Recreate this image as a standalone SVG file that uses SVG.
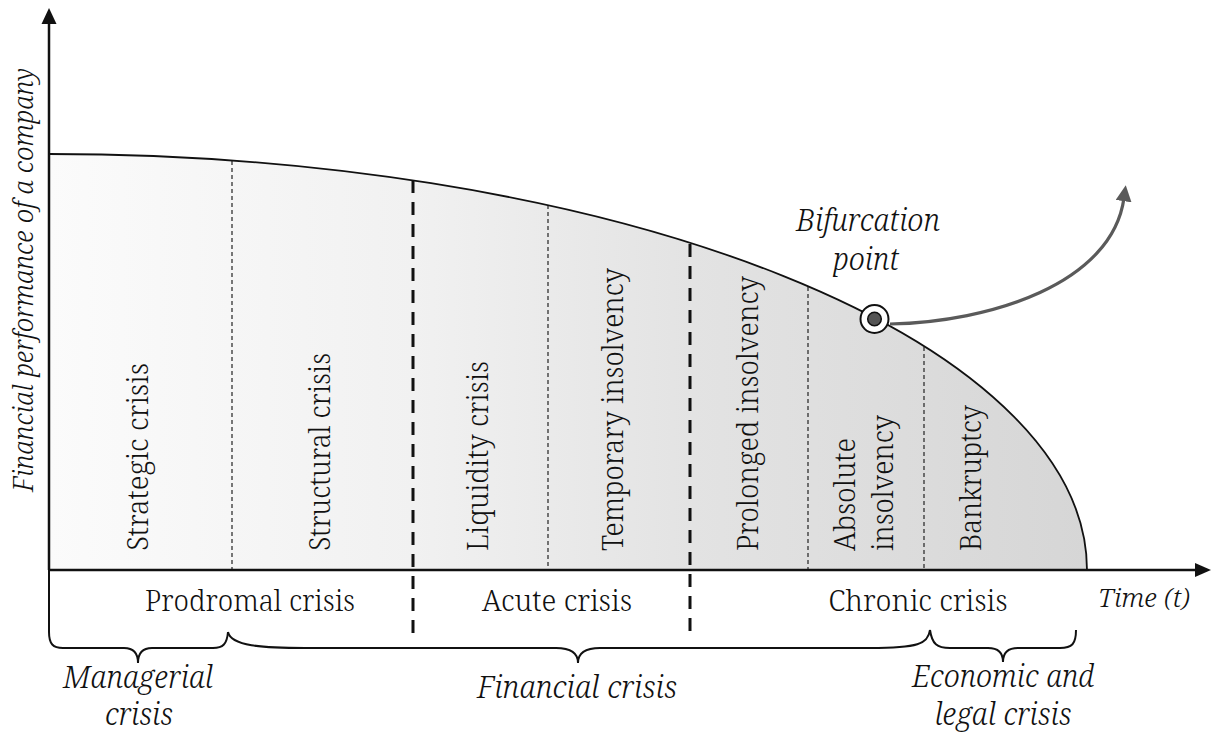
<svg xmlns="http://www.w3.org/2000/svg" width="1217" height="733" viewBox="0 0 1217 733" font-family="'Noto Serif', 'DejaVu Serif', serif">
  <defs>
    <linearGradient id="areaFill" gradientUnits="userSpaceOnUse" x1="49" y1="0" x2="1087" y2="0">
      <stop offset="0" stop-color="#fbfbfb"/>
      <stop offset="0.35" stop-color="#f1f1f1"/>
      <stop offset="0.62" stop-color="#e3e3e3"/>
      <stop offset="1" stop-color="#d6d6d6"/>
    </linearGradient>
    <marker id="grayHead" viewBox="0 0 10 10" refX="2" refY="5" markerWidth="5" markerHeight="5" orient="auto" markerUnits="strokeWidth">
      <path d="M0,0 L10,5 L0,10 Z" fill="#5a5a5a"/>
    </marker>
    <style>
      text { font-family: 'Noto Serif', 'DejaVu Serif', serif; font-weight: 300; fill: #111; }
      .lbl { font-size: 30px; }
      .it { font-style: italic; }
      .thin { stroke: #222; stroke-width: 1.2; stroke-dasharray: 4 3; fill: none; }
      .thick { stroke: #111; stroke-width: 3; stroke-dasharray: 13 9; fill: none; }
      .brace { stroke: #111; stroke-width: 2; fill: none; }
      .axis { stroke: #111; stroke-width: 2.5; fill: none; }
    </style>
  </defs>

  <rect width="1217" height="733" fill="#ffffff"/>

  <!-- shaded area under the performance curve -->
  <g id="area">
    <path d="M49,570 L49,154 A1038,416 0 0 1 1087,570 Z" fill="url(#areaFill)"/>
  </g>

  <!-- stage separators -->
  <g id="separators">
    <line class="thin" x1="232" y1="161" x2="232" y2="570"/>
    <line class="thin" x1="548" y1="205" x2="548" y2="570"/>
    <line class="thin" x1="808" y1="287" x2="808" y2="570"/>
    <line class="thin" x1="924" y1="347" x2="924" y2="570"/>
    <line class="thick" x1="413" y1="180" x2="413" y2="636"/>
    <line class="thick" x1="690" y1="244" x2="690" y2="634"/>
  </g>

  <!-- performance curve -->
  <g id="curve">
    <path d="M49,154 A1038,416 0 0 1 1087,570" fill="none" stroke="#111" stroke-width="1.8"/>
  </g>

  <!-- axes -->
  <g id="axes">
    <line class="axis" x1="49" y1="22" x2="49" y2="570"/>
    <polygon points="49,8 41.5,24 56.5,24" fill="#111"/>
    <line class="axis" x1="49" y1="570" x2="1197" y2="570"/>
    <polygon points="1211,570 1195,563 1195,577" fill="#111"/>
    <text class="it" font-size="26.5" transform="translate(33,492) rotate(-90)" textLength="424" lengthAdjust="spacingAndGlyphs">Financial performance of a company</text>
    <text class="it" font-size="26" x="1098" y="607" textLength="92" lengthAdjust="spacingAndGlyphs">Time (t)</text>
  </g>

  <!-- stage labels -->
  <g id="stage-strategic"><text class="lbl" transform="translate(148,551) rotate(-90)" textLength="188" lengthAdjust="spacingAndGlyphs">Strategic crisis</text></g>
  <g id="stage-structural"><text class="lbl" transform="translate(330,551) rotate(-90)" textLength="198" lengthAdjust="spacingAndGlyphs">Structural crisis</text></g>
  <g id="stage-liquidity"><text class="lbl" transform="translate(488,551) rotate(-90)" textLength="190" lengthAdjust="spacingAndGlyphs">Liquidity crisis</text></g>
  <g id="stage-temporary"><text class="lbl" transform="translate(623,551) rotate(-90)" textLength="283" lengthAdjust="spacingAndGlyphs">Temporary insolvency</text></g>
  <g id="stage-prolonged"><text class="lbl" transform="translate(758,551) rotate(-90)" textLength="275" lengthAdjust="spacingAndGlyphs">Prolonged insolvency</text></g>
  <g id="stage-absolute">
    <text class="lbl" transform="translate(855,551) rotate(-90)" textLength="113" lengthAdjust="spacingAndGlyphs">Absolute</text>
    <text class="lbl" transform="translate(893,551) rotate(-90)" textLength="136" lengthAdjust="spacingAndGlyphs">insolvency</text>
  </g>
  <g id="stage-bankruptcy"><text class="lbl" transform="translate(981,551) rotate(-90)" textLength="146" lengthAdjust="spacingAndGlyphs">Bankruptcy</text></g>

  <!-- phase labels -->
  <g id="phase-prodromal"><text class="lbl" x="250" y="611" text-anchor="middle" textLength="210" lengthAdjust="spacingAndGlyphs">Prodromal crisis</text></g>
  <g id="phase-acute"><text class="lbl" x="557" y="611" text-anchor="middle" textLength="150" lengthAdjust="spacingAndGlyphs">Acute crisis</text></g>
  <g id="phase-chronic"><text class="lbl" x="918" y="611" text-anchor="middle" textLength="179" lengthAdjust="spacingAndGlyphs">Chronic crisis</text></g>

  <!-- bifurcation point and alternative path -->
  <g id="bifurcation">
    <path d="M890,324 C990,322 1112,284 1124,198" fill="none" stroke="#5a5a5a" stroke-width="3.2" marker-end="url(#grayHead)"/>
    <circle cx="874.5" cy="319" r="14" fill="#ffffff" stroke="#111" stroke-width="2"/>
    <circle cx="874.5" cy="319" r="6.8" fill="#555555" stroke="#111" stroke-width="1.5"/>
    <text class="lbl it" x="868" y="231" text-anchor="middle" textLength="144" lengthAdjust="spacingAndGlyphs">Bifurcation</text>
    <text class="lbl it" x="866" y="270" text-anchor="middle" textLength="66" lengthAdjust="spacingAndGlyphs">point</text>
  </g>

  <!-- crisis-type braces -->
  <g id="connectors">
    <path class="brace" d="M49,570 L49,632 C49,644 53,648 63,648 L124,648 C133,648 138,652 138,663 C138,652 143,648 152,648 L213,648 C223,648 227,644 228,632"/>
    <path class="brace" d="M228,632 C231,646 262,648 305,648 L556,648 C570,648 578,652 578,663 C578,652 586,648 600,648 L870,648 C918,648 928,644 930,630"/>
    <path class="brace" d="M930,630 C932,644 937,648 950,648 L988,648 C998,648 1003,652 1003,662 C1003,652 1008,648 1018,648 L1060,648 C1072,648 1076,644 1076,630"/>
  </g>

  <g id="type-managerial">
    <text class="lbl it" x="138" y="688" text-anchor="middle" textLength="150" lengthAdjust="spacingAndGlyphs">Managerial</text>
    <text class="lbl it" x="139" y="725" text-anchor="middle" textLength="68" lengthAdjust="spacingAndGlyphs">crisis</text>
  </g>
  <g id="type-financial"><text class="lbl it" x="577" y="698" text-anchor="middle" textLength="200" lengthAdjust="spacingAndGlyphs">Financial crisis</text></g>
  <g id="type-economic">
    <text class="lbl it" x="1003" y="687" text-anchor="middle" textLength="182" lengthAdjust="spacingAndGlyphs">Economic and</text>
    <text class="lbl it" x="1003" y="725" text-anchor="middle" textLength="137" lengthAdjust="spacingAndGlyphs">legal crisis</text>
  </g>
</svg>
